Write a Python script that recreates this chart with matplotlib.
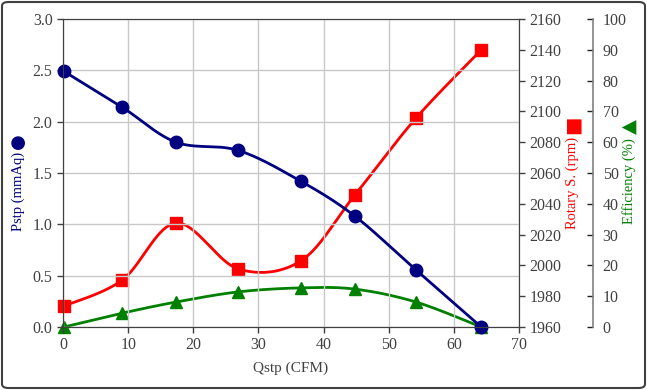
import numpy as np
import matplotlib
matplotlib.use("Agg")
import matplotlib.pyplot as plt
from matplotlib.patches import FancyBboxPatch

# data
qstp = [0.15, 9.1, 17.35, 26.9, 36.5, 44.8, 54.2, 64.2]
pstp = [2.49, 2.14, 1.80, 1.72, 1.42, 1.08, 0.555, 0.0]
rpm = [1973.6, 1990.5, 2027.5, 1997.7, 2002.9, 2045.7, 2095.7, 2139.9]
eff = [0.0, 4.5, 8.1, 11.4, 12.7, 12.3, 8.1, 0.0]

x_ticks = list(range(0, 80, 10))
p_ticks = [0.0, 0.5, 1.0, 1.5, 2.0, 2.5, 3.0]
rpm_ticks = list(range(1960, 2180, 20))
eff_ticks = list(range(0, 110, 10))

NAVY = "#000080"
RED = "#ff0000"
GREEN = "#008000"
TXT = "#404040"
FONT = ["Liberation Serif", "DejaVu Sans"]
W, H = 647, 390


def smooth(x, y, n=40):
    # Catmull-Rom style bezier, like spreadsheet "smoothed line"
    pts = np.column_stack([np.asarray(x, float), np.asarray(y, float)])
    out = []
    for i in range(len(pts) - 1):
        p0 = pts[i - 1] if i > 0 else pts[i]
        p1 = pts[i]
        p2 = pts[i + 1]
        p3 = pts[i + 2] if i + 2 < len(pts) else pts[i + 1]
        c1 = p1 + (p2 - p0) / 6.0
        c2 = p2 - (p3 - p1) / 6.0
        t = np.linspace(0, 1, n)[:, None]
        seg = ((1 - t) ** 3) * p1 + 3 * ((1 - t) ** 2) * t * c1 + 3 * (1 - t) * t ** 2 * c2 + t ** 3 * p2
        out.append(seg if i == 0 else seg[1:])
    seg = np.vstack(out)
    return seg[:, 0], seg[:, 1]


def side_label(xpx, ytop, ybot, ypx_sym, text, sym, color, symsize):
    fig.text(xpx / W, 1 - (ytop + ybot) / 2 / H, text, rotation=90, color=color,
             fontsize=10.5, ha="center", va="center", family="Liberation Serif")
    fig.text(xpx / W, 1 - ypx_sym / H, sym, rotation=90, color=color,
             fontsize=symsize, ha="center", va="center", family="DejaVu Sans")


plt.rcParams["font.family"] = FONT
plt.rcParams["font.size"] = 11

fig = plt.figure(figsize=(W / 100, H / 100), dpi=100)
ax = fig.add_axes([63 / W, 1 - 327 / H, 456 / W, 308 / H])
ax_r = ax.twinx()
ax_e = ax.twinx()

# draw order: efficiency, rpm, pressure on top
ax_e.set_zorder(1)
ax_r.set_zorder(2)
ax.set_zorder(3)
ax.patch.set_visible(False)

sx, sy = smooth(qstp, eff)
ax_e.plot(sx, sy, color=GREEN, lw=2, clip_on=False)
ax_e.plot(qstp, eff, "^", color=GREEN, ms=8, clip_on=False)

sx, sy = smooth(qstp, rpm)
ax_r.plot(sx, sy, color=RED, lw=2, clip_on=False)
ax_r.plot(qstp, rpm, "s", color=RED, ms=8, clip_on=False)

sx, sy = smooth(qstp, pstp)
ax.plot(sx, sy, color=NAVY, lw=2, clip_on=False)
ax.plot(qstp, pstp, "o", color=NAVY, ms=9, clip_on=False)

ax.set_xlim(0, 70)
ax.set_ylim(0, 3.0)
ax.set_xticks(x_ticks)
ax.set_yticks(p_ticks)
ax.set_yticklabels([f"{v:.1f}" for v in p_ticks])
ax.grid(True, color="#c8c8c8", lw=1)
ax.set_axisbelow(True)

ax_r.set_ylim(1960, 2160)
ax_r.set_yticks(rpm_ticks)
ax_e.set_ylim(0, 100)
ax_e.set_yticks(eff_ticks)

for a in (ax, ax_r, ax_e):
    for s in a.spines.values():
        s.set_color("#404040")
    a.tick_params(colors=TXT, labelcolor=TXT, labelsize=11.5, length=4, width=1)

ax.tick_params(axis="x", pad=3)
ax_e.spines["right"].set_position(("axes", 1.162))
ax_e.spines["right"].set_color("#808080")
ax_e.spines["right"].set_linewidth(1.2)
ax_e.tick_params(axis="y", direction="in", pad=7, color="#202020")
for s in ("top", "left", "bottom"):
    ax_e.spines[s].set_visible(False)

fig.text(291 / W, 1 - 368 / H, "Qstp (CFM)", color=TXT, fontsize=11,
         ha="center", va="center")
side_label(18, 153, 230, 141, "Pstp (mmAq)", "\u25cf", NAVY, 13)
side_label(572, 138, 227, 125, "Rotary S. (rpm)", "\u25a0", RED, 14)
side_label(629, 140, 222, 127, "Efficiency (%)", "\u25b2", GREEN, 14)

# outer frame
frame = FancyBboxPatch((2 / W, 2 / H), 643 / W, 386 / H,
                       boxstyle="round,pad=0,rounding_size=0.01",
                       transform=fig.transFigure, fill=False,
                       edgecolor="#404040", lw=1.5)
fig.patches.append(frame)

fig.savefig("out.png", dpi=100)
